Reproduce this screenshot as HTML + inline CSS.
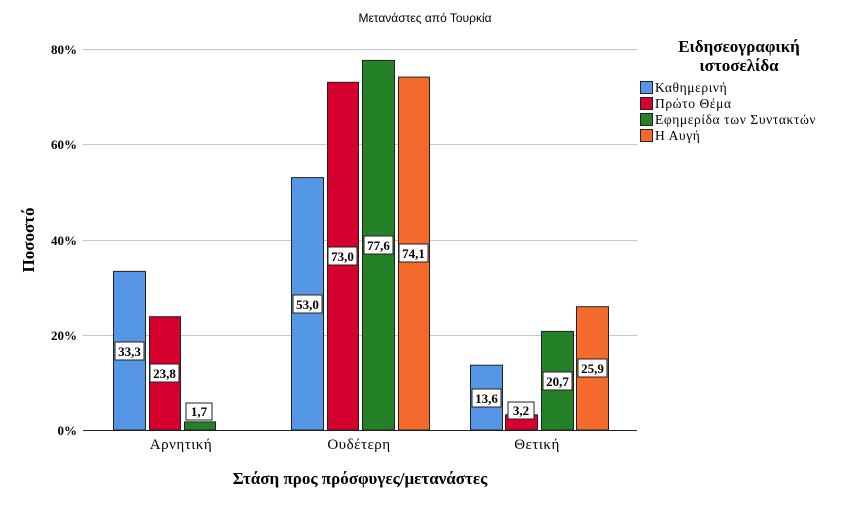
<!DOCTYPE html>
<html><head><meta charset="utf-8"><style>body{margin:0;background:#fff} svg text{font-family:"Liberation Serif",serif} svg text.s{font-family:"Liberation Sans",sans-serif}</style></head><body>
<svg width="851" height="501" xmlns="http://www.w3.org/2000/svg">
<rect width="851" height="501" fill="#fff"/>
<text class="s" x="425" y="22" font-size="12" text-anchor="middle">Μετανάστες από Τουρκία</text>
<g stroke="#c8c8c8" stroke-width="1">
<line x1="83" y1="49.5" x2="637" y2="49.5"/><line x1="83" y1="144.5" x2="637" y2="144.5"/>
<line x1="83" y1="240.5" x2="637" y2="240.5"/><line x1="83" y1="335.5" x2="637" y2="335.5"/>
</g>
<g font-size="13" font-weight="bold" text-anchor="end">
<text x="77" y="54">80%</text><text x="77" y="149">60%</text><text x="77" y="245">40%</text><text x="77" y="340">20%</text><text x="77" y="435">0%</text>
</g>
<g stroke="#222" stroke-width="1">
<rect x="113.5" y="271.4" width="32" height="158.6" fill="#5596e6"/>
<rect x="149.5" y="316.7" width="31" height="113.3" fill="#d5002d"/>
<rect x="184.5" y="421.9" width="31" height="8.1" fill="#248128"/>
<rect x="291.5" y="177.6" width="32" height="252.4" fill="#5596e6"/>
<rect x="327.5" y="82.3" width="31" height="347.7" fill="#d5002d"/>
<rect x="362.5" y="60.4" width="32" height="369.6" fill="#248128"/>
<rect x="398.5" y="77.1" width="31" height="352.9" fill="#f36a2c"/>
<rect x="470.5" y="365.2" width="32" height="64.8" fill="#5596e6"/>
<rect x="505.5" y="414.8" width="32" height="15.2" fill="#d5002d"/>
<rect x="541.5" y="331.4" width="32" height="98.6" fill="#248128"/>
<rect x="576.5" y="306.7" width="32" height="123.3" fill="#f36a2c"/>
</g>
<line x1="83" y1="430.5" x2="637" y2="430.5" stroke="#222"/>
<g font-size="13" font-weight="bold" text-anchor="middle">
<g fill="#fff" stroke="#222">
<rect x="115" y="342" width="29" height="18"/><rect x="150" y="364" width="29" height="18"/><rect x="186" y="403" width="26" height="17"/>
<rect x="293" y="295" width="29" height="18"/><rect x="328" y="247" width="29" height="18"/><rect x="364" y="236" width="29" height="18"/><rect x="399" y="244" width="29" height="18"/>
<rect x="472" y="389" width="29" height="18"/><rect x="508" y="402" width="26" height="17"/><rect x="543" y="372" width="29" height="18"/><rect x="578" y="359" width="29" height="18"/>
</g>
<text x="129.5" y="356">33,3</text><text x="164.5" y="378">23,8</text><text x="199" y="416">1,7</text>
<text x="307.5" y="309">53,0</text><text x="342.5" y="261">73,0</text><text x="378.5" y="250">77,6</text><text x="413.5" y="258">74,1</text>
<text x="486.5" y="403">13,6</text><text x="521" y="415">3,2</text><text x="557.5" y="386">20,7</text><text x="592.5" y="373">25,9</text>
</g>
<g font-size="15" text-anchor="middle" letter-spacing="0.5">
<text x="181" y="449">Αρνητική</text><text x="359" y="449">Ουδέτερη</text><text x="537" y="449">Θετική</text>
</g>
<text x="360" y="484" font-size="17" font-weight="bold" text-anchor="middle">Στάση προς πρόσφυγες/μετανάστες</text>
<text transform="translate(34,240) rotate(-90)" font-size="17" font-weight="bold" text-anchor="middle">Ποσοστό</text>
<g font-size="17" font-weight="bold" text-anchor="middle"><text x="739" y="52">Ειδησεογραφική</text><text x="739" y="71">ιστοσελίδα</text></g>
<g stroke="#222"><rect x="640.5" y="81.5" width="12" height="12" fill="#5596e6"/><rect x="640.5" y="97.5" width="12" height="12" fill="#d5002d"/><rect x="640.5" y="113.5" width="12" height="12" fill="#248128"/><rect x="640.5" y="129.5" width="12" height="12" fill="#f36a2c"/></g>
<g font-size="13.5" letter-spacing="0.6"><text x="655" y="92">Καθημερινή</text><text x="655" y="108">Πρώτο Θέμα</text><text x="655" y="124">Εφημερίδα των Συντακτών</text><text x="655" y="140">Η Αυγή</text></g>
</svg>
</body></html>
